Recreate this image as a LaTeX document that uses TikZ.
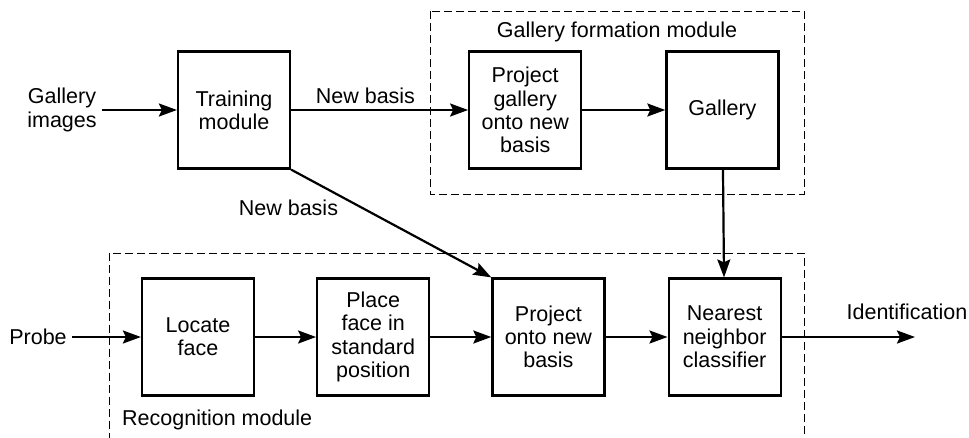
\documentclass[tikz,border=0pt]{standalone}
\usepackage{fontspec}
\setmainfont{Liberation Sans}
\usetikzlibrary{positioning,arrows.meta}

\begin{document}
\begin{tikzpicture}[
    x=1pt, y=-1pt,
    node distance=61pt,
    font=\fontsize{21.5}{23.3}\selectfont,
    block/.style={draw, line width=2.2pt, align=center, minimum width=112pt, minimum height=117pt, inner sep=2pt},
    plain/.style={align=center, inner sep=5pt},
    arrow/.style={-{Stealth[length=18pt, width=13pt, inset=3pt]}, line width=2.2pt},
    module/.style={draw, dashed, dash pattern=on 8pt off 4pt, line width=0.9pt}
]
\useasboundingbox (0,0) rectangle (969,437);

% module frames
\draw[module] (430,11) rectangle (804,194);
\draw[module] (109,253) rectangle (804,470);
\node[plain] (galtitle) at (617,32) {Gallery formation module};
\node[plain, anchor=west] (rectitle) at (117,420) {Recognition module};

% top row
\node[block] (train) at (234,110) {Training\\module};
\node[block, right=177pt of train] (projgal) {Project\\gallery\\onto new\\basis};
\node[block, right=83pt of projgal] (gallery) {Gallery};

% bottom row
\node[block] (locate) at (198,337) {Locate\\face};
\node[block, right=of locate] (place) {Place\\face in\\standard\\position};
\node[block, right=of place] (projnew) {Project\\onto new\\basis};
\node[block, right=62pt of projnew] (nearest) {Nearest\\neighbor\\classifier};

% inputs and output
\node[plain] (galimg) at (62,110) {Gallery\\images};
\node[plain] (probe) at (38,337) {Probe};
\coordinate (idend) at (915,337);
\node[plain] (ident) at (907,312) {Identification};

\draw[arrow] (galimg) -- (train);
\draw[arrow] (train) -- node[plain, above, pos=0.42, inner sep=5pt] {New basis} (projgal);
\draw[arrow] (projgal) -- (gallery);
\draw[arrow] (train.south east) -- node[plain, below left, pos=0.25, inner sep=2pt] {New basis} (projnew.north west);
\draw[arrow] (gallery) -- (nearest);
\draw[arrow] (probe) -- (locate);
\draw[arrow] (locate) -- (place);
\draw[arrow] (place) -- (projnew);
\draw[arrow] (projnew) -- (nearest);
\draw[arrow] (nearest) -- (idend);
\end{tikzpicture}
\end{document}
